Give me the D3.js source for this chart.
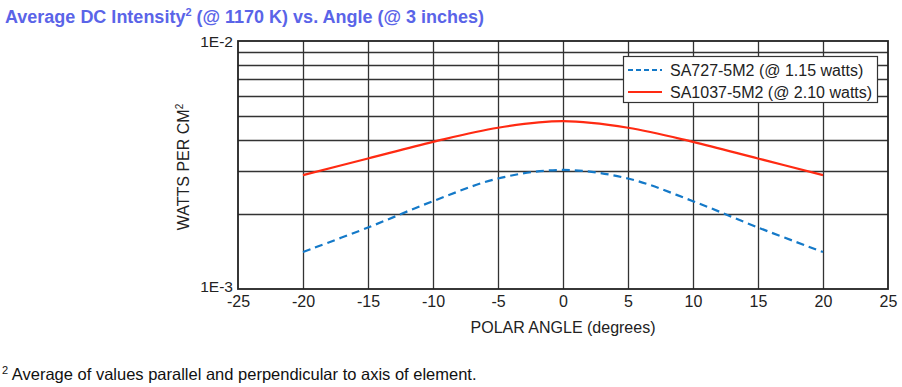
<!DOCTYPE html>
<html>
<head>
<meta charset="utf-8">
<script src="https://cdn.jsdelivr.net/npm/d3@7"></script>
<style>
  body { margin: 0; background: #fff; }
  svg { font-family: "Liberation Sans", Arial, sans-serif; }
</style>
</head>
<body>
<div id="chart-area"></div>
<script>
// data
const angles = [-20, -15, -10, -5, 0, 5, 10, 15, 20]
const sa727 = [1.41e-3, 1.77e-3, 2.26e-3, 2.79e-3, 3.02e-3, 2.79e-3, 2.26e-3, 1.77e-3, 1.41e-3]
const sa1037 = [2.88e-3, 3.36e-3, 3.92e-3, 4.47e-3, 4.75e-3, 4.47e-3, 3.92e-3, 3.36e-3, 2.88e-3]
const xTicks = [-25, -20, -15, -10, -5, 0, 5, 10, 15, 20, 25]
const yGrid = [2e-3, 3e-3, 4e-3, 5e-3, 6e-3, 7e-3, 8e-3, 9e-3]
const yLabels = [[1e-3, "1E-3"], [1e-2, "1E-2"]]
const seriesNames = ["SA727-5M2 (@ 1.15 watts)", "SA1037-5M2 (@ 2.10 watts)"]

let width = 902, height = 387
let plotLeft = 238, plotRight = 888, plotTop = 41, plotBottom = 289

let svg = d3.select("#chart-area").append("svg")
  .attr("width", width)
  .attr("height", height)

let x = d3.scaleLinear().domain([-25, 25]).range([plotLeft, plotRight])
let y = d3.scaleLog().domain([1e-3, 1e-2]).range([plotBottom, plotTop])

// title
let title = svg.append("text")
  .attr("x", 5).attr("y", 23)
  .attr("fill", "#5a64e8")
  .attr("font-size", 18).attr("font-weight", "bold")
title.append("tspan").text("Average DC Intensity")
title.append("tspan").attr("font-size", 11).attr("dy", -7).text("2")
title.append("tspan").attr("dy", 7).text(" (@ 1170 K) vs. Angle (@ 3 inches)")

// grid
svg.append("g").selectAll("line")
  .data(yGrid).enter().append("line")
    .attr("x1", plotLeft).attr("x2", plotRight)
    .attr("y1", d => Math.round(y(d)) + 0.5)
    .attr("y2", d => Math.round(y(d)) + 0.5)
    .attr("stroke", "#333").attr("stroke-width", 1.3)

svg.append("g").selectAll("line")
  .data(xTicks.slice(1, -1)).enter().append("line")
    .attr("x1", d => Math.round(x(d)) + 0.5)
    .attr("x2", d => Math.round(x(d)) + 0.5)
    .attr("y1", plotTop).attr("y2", plotBottom)
    .attr("stroke", "#333").attr("stroke-width", 1.3)

svg.append("rect")
  .attr("x", plotLeft).attr("y", plotTop)
  .attr("width", plotRight - plotLeft).attr("height", plotBottom - plotTop)
  .attr("fill", "none").attr("stroke", "#222").attr("stroke-width", 1.8)

// x axis labels
let xAxis = svg.append("g")
  .attr("transform", `translate(0,${plotBottom})`)
  .call(d3.axisBottom(x).tickValues(xTicks).tickSize(0).tickPadding(7)
    .tickFormat(d => String(d)))
xAxis.select(".domain").remove()
xAxis.selectAll("text")
  .attr("font-size", 16).attr("fill", "#222")
  .attr("font-family", "Liberation Sans, Arial, sans-serif")

// only the decade ends are labelled
svg.append("g").selectAll("text")
  .data(yLabels).enter().append("text")
    .attr("x", plotLeft - 5)
    .attr("y", d => y(d[0]) + (d[0] === 1e-3 ? 3 : 6))
    .attr("text-anchor", "end")
    .attr("font-size", 15.5).attr("fill", "#222")
    .text(d => d[1])

// axis titles
svg.append("text")
  .attr("x", x(0)).attr("y", 333)
  .attr("text-anchor", "middle")
  .attr("font-size", 16).attr("fill", "#222")
  .text("POLAR ANGLE (degrees)")

let yTitle = svg.append("text")
  .attr("transform", `translate(189,${(plotTop + plotBottom) / 2 + 2}) rotate(-90)`)
  .attr("text-anchor", "middle")
  .attr("font-size", 16).attr("fill", "#222")
yTitle.append("tspan").text("WATTS PER CM")
yTitle.append("tspan").attr("font-size", 10).attr("dy", -6).text("2")

// curves
let line = d3.line()
  .x(d => x(d[0]))
  .y(d => y(d[1]))
  .curve(d3.curveCatmullRom)

svg.append("path")
  .datum(angles.map((a, i) => [a, sa727[i]]))
  .attr("d", line)
  .attr("fill", "none")
  .attr("stroke", "#1479c8").attr("stroke-width", 2.2)
  .attr("stroke-dasharray", "8,5")

svg.append("path")
  .datum(angles.map((a, i) => [a, sa1037[i]]))
  .attr("d", line)
  .attr("fill", "none")
  .attr("stroke", "#ff2a12").attr("stroke-width", 2.2)

// legend
let legend = svg.append("g")
legend.append("rect")
  .attr("x", 623.5).attr("y", 56.5)
  .attr("width", 254).attr("height", 46)
  .attr("fill", "#fff").attr("stroke", "#333").attr("stroke-width", 1.2)

let legendItems = [
  { name: seriesNames[0], color: "#1479c8", dash: "5,3" },
  { name: seriesNames[1], color: "#ff2a12", dash: null }
]
legendItems.forEach((item, i) => {
  let ly = 70 + i * 22
  legend.append("line")
    .attr("x1", 628).attr("x2", 662)
    .attr("y1", ly).attr("y2", ly)
    .attr("stroke", item.color).attr("stroke-width", 2)
    .attr("stroke-dasharray", item.dash)
  legend.append("text")
    .attr("x", 670).attr("y", ly + 6)
    .attr("font-size", 16).attr("fill", "#222")
    .text(item.name)
})

// footnote
let foot = svg.append("text")
  .attr("x", 2).attr("y", 380)
  .attr("font-size", 16.5).attr("fill", "#111")
foot.append("tspan").attr("font-size", 11).attr("dy", -6).text("2")
foot.append("tspan").attr("dy", 6).text(" Average of values parallel and perpendicular to axis of element.")
</script>
</body>
</html>
